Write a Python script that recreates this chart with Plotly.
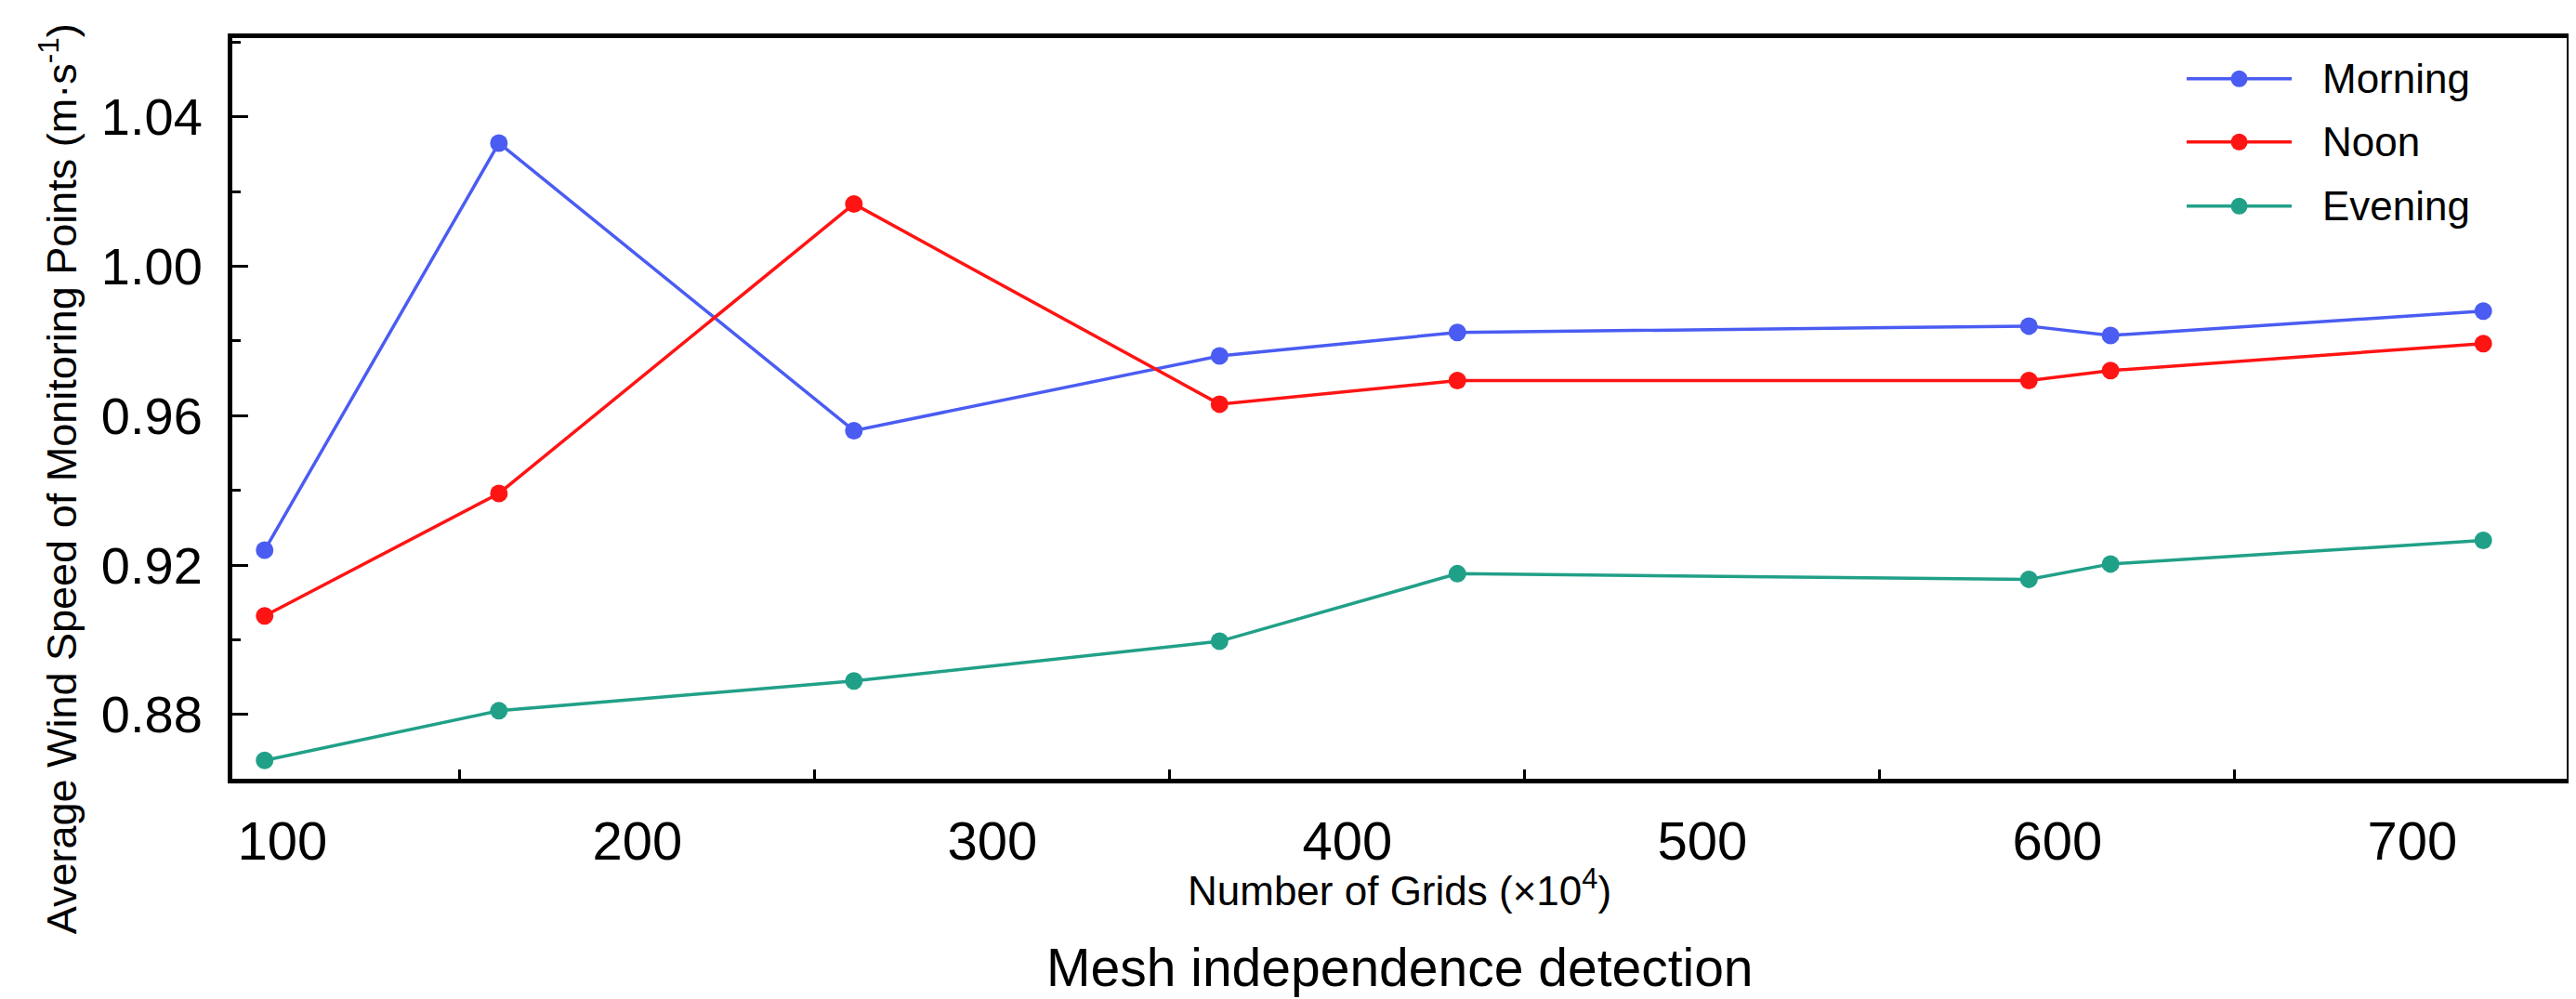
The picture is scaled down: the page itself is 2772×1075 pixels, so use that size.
import plotly.graph_objects as go

# grid counts (x10^4) and average wind speed at monitoring points (m/s)
grids = [95, 161, 261, 364, 431, 592, 615, 720]
morning = [0.924, 1.033, 0.956, 0.976, 0.9823, 0.984, 0.9815, 0.988]
noon = [0.9064, 0.9392, 1.0167, 0.9631, 0.9694, 0.9694, 0.9721, 0.9793]
evening = [0.8677, 0.881, 0.889, 0.8996, 0.9177, 0.9162, 0.9203, 0.9266]

series = [
    ("Morning", morning, "#4a5cf2"),
    ("Noon", noon, "#ff1414"),
    ("Evening", evening, "#21a088"),
]

x_ticks = [100, 200, 300, 400, 500, 600, 700]
y_ticks = [0.88, 0.92, 0.96, 1.00, 1.04]

FONT = "Liberation Sans, Arial, sans-serif"

fig = go.Figure()
for name, vals, col in series:
    fig.add_trace(go.Scatter(
        x=grids, y=vals, name=name, mode="lines+markers",
        line=dict(color=col, width=3.5),
        marker=dict(color=col, size=19),
        showlegend=False,
    ))

# legend drawn by hand so the sample line is as long as in the original
leg_x0, leg_x1, leg_txt = 0.8372, 0.8822, 0.8945
leg_rows = [0.945, 0.8597, 0.7731]
rx, ry = 0.0036, 0.0113
shapes, annos = [], []
for (name, vals, col), ly in zip(series, leg_rows):
    shapes.append(dict(type="line", xref="paper", yref="paper",
                       x0=leg_x0, x1=leg_x1, y0=ly, y1=ly,
                       line=dict(color=col, width=3.5)))
    xm = (leg_x0 + leg_x1) / 2
    shapes.append(dict(type="circle", xref="paper", yref="paper",
                       x0=xm - rx, x1=xm + rx, y0=ly - ry, y1=ly + ry,
                       fillcolor=col, line=dict(color=col, width=0)))
    annos.append(dict(text=name, xref="paper", yref="paper", x=leg_txt, y=ly,
                      xanchor="left", yanchor="middle", showarrow=False,
                      font=dict(size=44, color="black")))

fig.update_xaxes(
    range=[85.9, 743.5], tickvals=x_ticks, ticks="", showgrid=False,
    zeroline=False, showline=True, linecolor="black", linewidth=5, mirror=True,
    tickfont=dict(size=58, color="black", family=FONT), ticklabelstandoff=12,
    minor=dict(ticks="inside", tick0=150, dtick=100, ticklen=10, tickwidth=3,
               tickcolor="black", showgrid=False),
)
fig.update_yaxes(
    range=[0.8628, 1.0611], tickvals=y_ticks, ticktext=[f"{v:.2f}" for v in y_ticks],
    ticks="inside", ticklen=17, tickwidth=3, tickcolor="black", showgrid=False,
    zeroline=False, showline=True, linecolor="black", linewidth=5, mirror=True,
    tickfont=dict(size=56, color="black", family=FONT), ticklabelstandoff=16,
    minor=dict(ticks="inside", tick0=0.86, dtick=0.02, ticklen=9, tickwidth=3,
               tickcolor="black", showgrid=False),
)

annos += [
    dict(text="Average Wind Speed of Monitoring Points (m·s<sup>-1</sup>)",
         xref="paper", yref="paper", x=-0.0744, y=0.405,
         xanchor="center", yanchor="middle", textangle=-90,
         showarrow=False, font=dict(size=45, color="black")),
    dict(text="Number of Grids (×10<sup>4</sup>)",
         xref="paper", yref="paper", x=0.5, y=-0.147,
         xanchor="center", yanchor="middle",
         showarrow=False, font=dict(size=44, color="black")),
    dict(text="Mesh independence detection",
         xref="paper", yref="paper", x=0.5, y=-0.255,
         xanchor="center", yanchor="middle",
         showarrow=False, font=dict(size=57, color="black")),
]

fig.update_layout(
    width=2772, height=1075,
    margin=dict(l=242, r=18, t=33, b=245),
    paper_bgcolor="white", plot_bgcolor="white",
    font=dict(family=FONT, color="black"),
    shapes=shapes,
    annotations=annos,
)

fig.write_html("out.html")
